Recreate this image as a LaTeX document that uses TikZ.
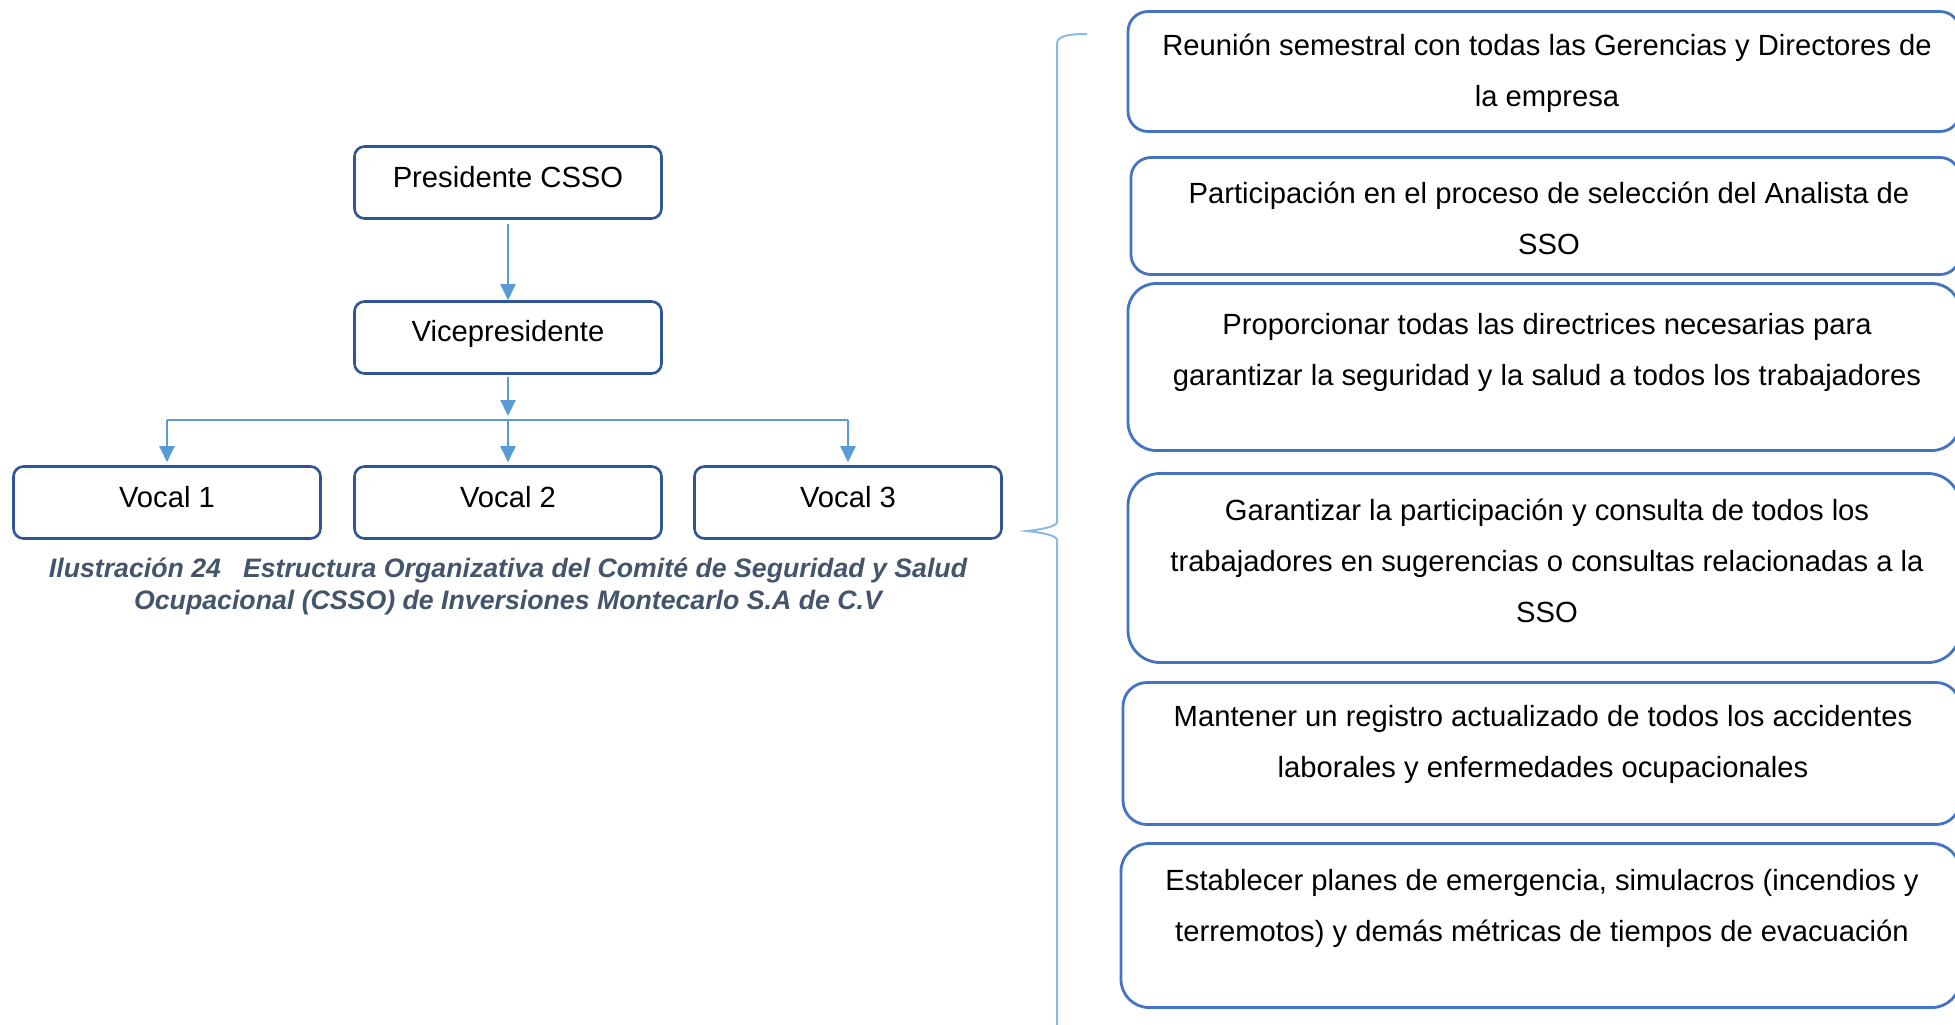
\documentclass[tikz,border=0pt]{standalone}
\usepackage{fontspec}
\setmainfont{Liberation Sans}
\usetikzlibrary{arrows.meta}
\definecolor{boxblue}{HTML}{2F5597}
\definecolor{rboxblue}{HTML}{4472C4}
\definecolor{arrblue}{HTML}{5B9BD5}
\definecolor{braceblue}{HTML}{8FB8E0}
\definecolor{capcol}{HTML}{44546A}
\begin{document}
\begin{tikzpicture}[x=0.5pt,y=-0.5pt,
  lbox/.style={draw=boxblue, line width=1.3pt, rounded corners=5pt, minimum width=153.5pt, minimum height=36pt, inner sep=0pt},
  rbox/.style={draw=rboxblue, line width=1.4pt, inner sep=0pt},
  ltext/.style={font=\fontsize{14.6}{17}\selectfont, inner sep=0pt},
  rtext/.style={font=\fontsize{14.6}{25.4}\selectfont, align=center, inner sep=0pt},
  captext/.style={font=\fontsize{13.35}{15.7}\selectfont\bfseries\itshape, text=capcol, align=center, inner sep=0pt},
  conn/.style={draw=arrblue, line width=1.1pt},
  arr/.style={conn, -{Triangle[length=8pt,width=7.5pt]}},
  bracestyle/.style={draw=braceblue, line width=1pt}]
\useasboundingbox (0,0) rectangle (1955,1024);
\clip (0,0) rectangle (1955,1024);
% left chart boxes
\node[lbox] (pres) at (508,182.5) {};
\node[lbox] (vice) at (508,337.5) {};
\node[lbox] (v1) at (167,502.5) {};
\node[lbox] (v2) at (508,502.5) {};
\node[lbox] (v3) at (848,502.5) {};
\node[ltext] (tpres) at (508,177) {Presidente CSSO};
\node[ltext] (tvice) at (508,334) {Vicepresidente};
\node[ltext] (tv1) at (167,497) {Vocal 1};
\node[ltext] (tv2) at (508,497) {Vocal 2};
\node[ltext] (tv3) at (848,497) {Vocal 3};
% connectors
\coordinate (j) at (508,420);
\draw[arr, shorten <=2pt] (pres.south) -- (vice.north);
\draw[arr, shorten <=1pt, shorten >=2pt] (vice.south) -- (j);
\draw[conn] (v1.north |- j) -- (v3.north |- j);
\draw[arr, shorten >=1.5pt] (v1.north |- j) -- (v1.north);
\draw[arr, shorten >=1.5pt] (j) -- (v2.north);
\draw[arr, shorten >=1.5pt] (v3.north |- j) -- (v3.north);
% caption
\node[captext] (cap) at (508,586.5) {Ilustración 24\hspace{11pt}Estructura Organizativa del Comité de Seguridad y Salud\\Ocupacional (CSSO) de Inversiones Montecarlo S.A de C.V};
% brace
\draw[bracestyle] (1087,34) .. controls (1068,34) and (1057,36) .. (1057,44) -- (1057,522) .. controls (1057,526) and (1045,529) .. (1027,531) .. controls (1045,533) and (1057,536) .. (1057,540) -- (1057,1030);
% right boxes
\node[rbox, rounded corners=10pt, minimum width=416pt, minimum height=60pt] (r1) at (1544,71.5) {};
\node[rbox, rounded corners=10pt, minimum width=414.5pt, minimum height=58.5pt] (r2) at (1545.5,216) {};
\node[rbox, rounded corners=14pt, minimum width=416pt, minimum height=83.5pt] (r3) at (1544,367) {};
\node[rbox, rounded corners=16pt, minimum width=416pt, minimum height=94.5pt] (r4) at (1544,568) {};
\node[rbox, rounded corners=12pt, minimum width=418.5pt, minimum height=71pt] (r5) at (1541.5,753.5) {};
\node[rbox, rounded corners=14pt, minimum width=419.5pt, minimum height=82pt] (r6) at (1540.5,925.5) {};
\node[rtext] (t1) at (1547,73.5) {Reunión semestral con todas las Gerencias y Directores de\\la empresa};
\node[rtext] (t2) at (1549,218) {Participación en el proceso de selección del Analista de\\SSO};
\node[rtext] (t3) at (1547,352.5) {Proporcionar todas las directrices necesarias para\\garantizar la seguridad y la salud a todos los trabajadores};
\node[rtext] (t4) at (1547,561) {Garantizar la participación y consulta de todos los\\trabajadores en sugerencias o consultas relacionadas a la\\SSO};
\node[rtext] (t5) at (1543,744.5) {Mantener un registro actualizado de todos los accidentes\\laborales y enfermedades ocupacionales};
\node[rtext] (t6) at (1542,908.5) {Establecer planes de emergencia, simulacros (incendios y\\terremotos) y demás métricas de tiempos de evacuación};
\end{tikzpicture}
\end{document}
